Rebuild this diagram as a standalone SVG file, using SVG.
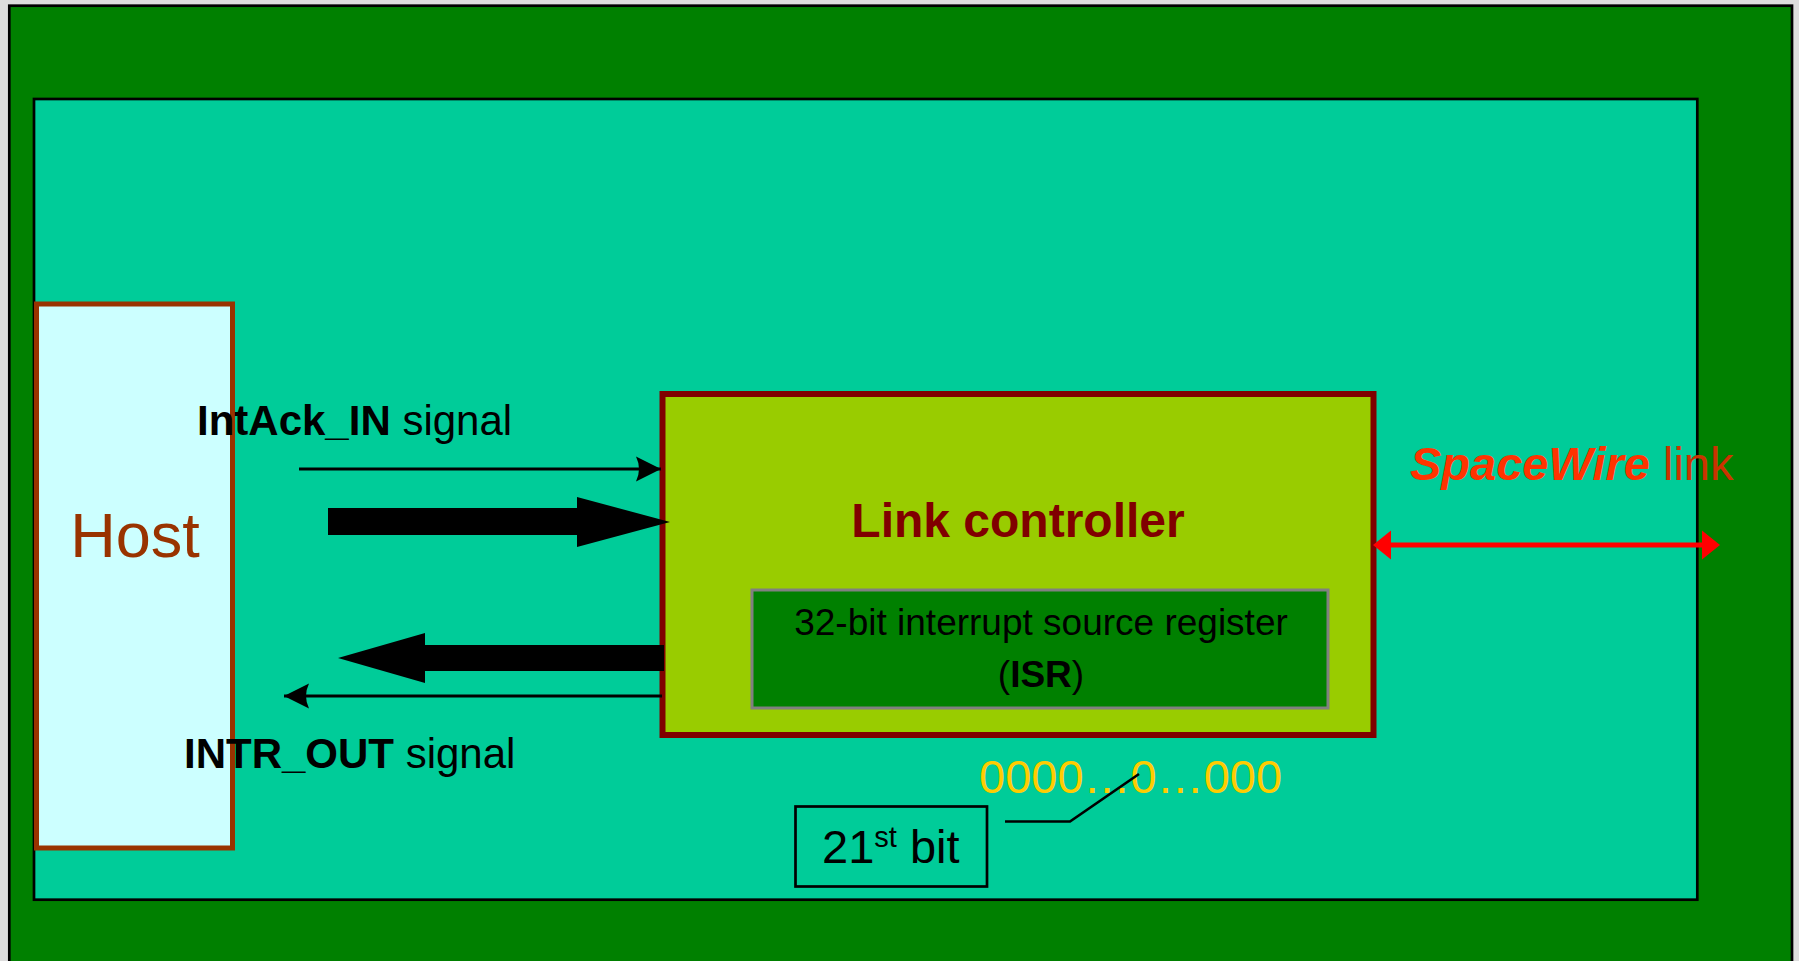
<svg xmlns="http://www.w3.org/2000/svg" width="1799" height="961" viewBox="0 0 1799 961">
  <style>
    text { font-family: "Liberation Sans", Arial, sans-serif; }
    .sig { font-size: 42px; fill: #000000; }
    .b { font-weight: bold; }
    .thin { stroke: #000000; stroke-width: 3; fill: none; }
    .thick { fill: #000000; }
  </style>
  <defs>
    <marker id="stealth" viewBox="0 0 26 26" refX="25" refY="13" markerWidth="26" markerHeight="26" markerUnits="userSpaceOnUse" orient="auto">
      <path d="M25,13 L0,0.5 Q6,13 0,25.5 Z" fill="#000000"/>
    </marker>
  </defs>

  <!-- page background and frames -->
  <rect x="0" y="0" width="1799" height="961" fill="#dddddd"/>
  <rect id="board" x="9.3" y="5.7" width="1782.7" height="1000" fill="#008000" stroke="#000000" stroke-width="2.7"/>
  <rect id="system" x="34" y="99" width="1663.3" height="800.7" fill="#00cc99" stroke="#000000" stroke-width="2.7"/>

  <!-- Host -->
  <g id="host">
    <rect x="36.5" y="304" width="196" height="544" fill="#ccffff" stroke="#993300" stroke-width="5"/>
    <text x="135" y="557" font-size="63" fill="#993300" text-anchor="middle">Host</text>
  </g>

  <!-- Link controller with its ISR -->
  <g id="link-controller">
    <rect x="662.5" y="394" width="711" height="341" fill="#99cc00" stroke="#800000" stroke-width="6"/>
    <text x="1018" y="537" font-size="48" font-weight="bold" fill="#800000" text-anchor="middle">Link controller</text>
  </g>
  <g id="isr">
    <rect x="752" y="590" width="576" height="118" fill="#008000" stroke="#808080" stroke-width="3"/>
    <text x="1041" y="635" font-size="37" fill="#000000" text-anchor="middle">32-bit interrupt source register</text>
    <text x="1041" y="687" font-size="37" fill="#000000" text-anchor="middle">(<tspan font-weight="bold">ISR</tspan>)</text>
  </g>

  <!-- bit pattern and 21st bit callout -->
  <g id="bits">
    <text x="979" y="793" font-size="47" fill="#ffcc00">0000…0…000</text>
  </g>
  <g id="bit21">
    <rect x="795.5" y="806.5" width="191.5" height="80" fill="none" stroke="#000000" stroke-width="2.7"/>
    <text x="822" y="863" font-size="47" fill="#000000">21<tspan font-size="29" dy="-16">st</tspan><tspan dy="16"> bit</tspan></text>
  </g>

  <!-- labels -->
  <g id="labels">
    <text class="sig" x="197" y="435"><tspan class="b">IntAck_IN</tspan> signal</text>
    <text class="sig" x="184" y="768"><tspan class="b">INTR_OUT</tspan> signal</text>
    <text x="1410" y="480" font-size="47" fill="#ff3300"><tspan font-weight="bold" font-style="italic">SpaceWire</tspan><tspan fill="#cc3300"> link</tspan></text>
  </g>

  <!-- connectors -->
  <g id="connectors">
    <!-- IntAck_IN -->
    <line class="thin" x1="299" y1="469" x2="661" y2="469" marker-end="url(#stealth)"/>
    <!-- data to link controller -->
    <polygon class="thick" points="328,508 577,508 577,497 670,522 577,547 577,535 328,535"/>
    <!-- data from link controller -->
    <polygon class="thick" points="664,645 425,645 425,633 338,658 425,683 425,671 664,671"/>
    <!-- INTR_OUT -->
    <line class="thin" x1="662" y1="696" x2="284" y2="696" marker-end="url(#stealth)"/>
    <!-- SpaceWire link -->
    <line x1="1388" y1="545" x2="1705" y2="545" stroke="#ff0000" stroke-width="5"/>
    <polygon points="1373,545 1391,530.5 1391,559.5" fill="#ff0000"/>
    <polygon points="1720,545 1702,530.5 1702,559.5" fill="#ff0000"/>
    <!-- 21st bit leader -->
    <polyline points="1005,821.5 1070,821.5 1139,774" fill="none" stroke="#000000" stroke-width="2.7"/>
  </g>
</svg>
